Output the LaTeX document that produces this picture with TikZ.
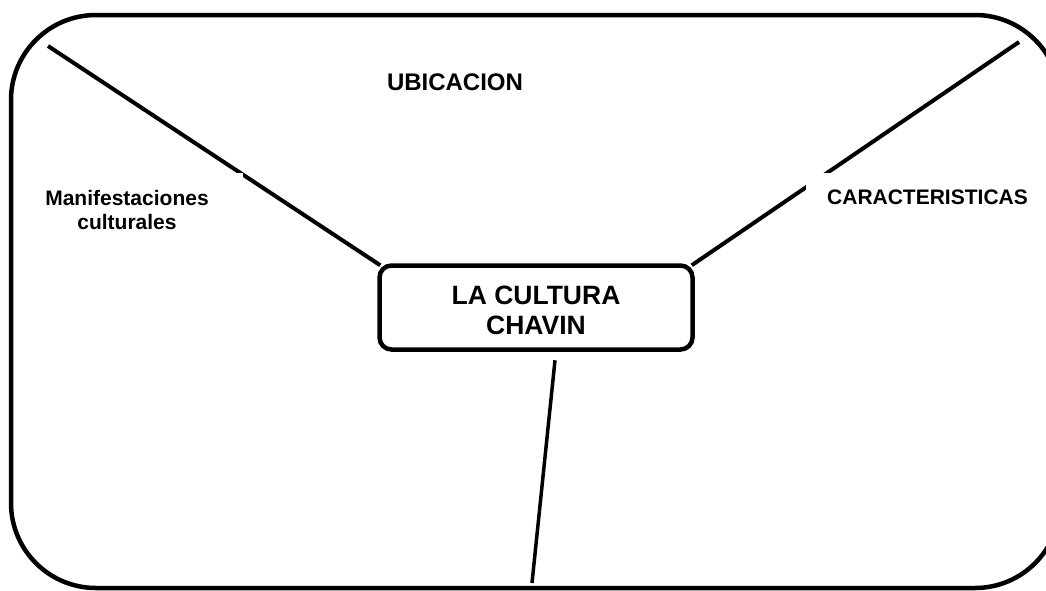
\documentclass[tikz,border=0pt]{standalone}
\usepackage{fontspec}
\setmainfont{Liberation Sans}
\begin{document}
\begin{tikzpicture}[x=1pt,y=-1pt,
		lbl/.style={font=\bfseries\fontsize{21}{24.5}\selectfont, align=center, fill=white, inner sep=0pt},
		ln/.style={line width=4pt}]
		\useasboundingbox (0,0) rectangle (1046,590);
		\clip (0,0) rectangle (1046,590);
		
		\node[draw, line width=4.5pt, rounded corners=12pt, minimum width=313pt, minimum height=84pt, inner sep=0pt, text height=55pt, font=\bfseries\fontsize{26.5}{30}\selectfont, align=center] (chavin) at (536,307.5) {LA CULTURA\\CHAVIN};
		
		\coordinate (ul) at (48,46);
		\coordinate (ur) at (1019,42);
		\coordinate (dn) at (532,583);
		
		\draw[ln] (ul) -- ([xshift=3pt,yshift=-2pt]chavin.north west);
		\draw[ln] (ur) -- ([xshift=-3pt,yshift=-2pt]chavin.north east);
		\draw[line width=3.5pt] ([xshift=19pt,yshift=-8.5pt]chavin.south) -- (dn);
		
		\node[lbl, font=\bfseries\fontsize{24}{28}\selectfont] (ubic) at (455,82) {UBICACION};
		\node[lbl, minimum width=232pt, minimum height=74pt] (manif) at (127,210) {Manifestaciones\\culturales};
		\node[lbl, minimum width=243pt, minimum height=48pt] (caract) at (927.5,197) {CARACTERISTICAS};
		
		\draw[line width=4.5pt, rounded corners=85pt] (11,15) rectangle (1060,588);
	\end{tikzpicture}
\end{document}
